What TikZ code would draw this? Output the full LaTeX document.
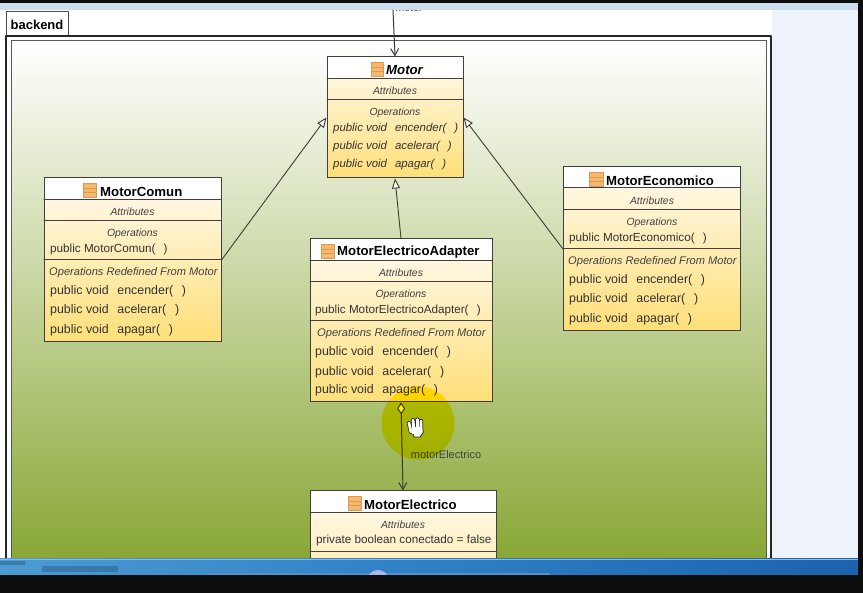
\documentclass[tikz,border=0pt]{standalone}
\usepackage{fontspec}
\setmainfont{Liberation Sans}
\usetikzlibrary{arrows.meta}
\definecolor{headerblue}{HTML}{CBDCEE}
\definecolor{panelblue}{HTML}{EDF2FB}
\definecolor{greenback}{HTML}{89A736}
\definecolor{linegray}{HTML}{3C3C34}
\definecolor{iconfill}{HTML}{F4B870}
\definecolor{iconline}{HTML}{DB9A4C}
\definecolor{classtop}{HTML}{FFFAF0}
\definecolor{classbottom}{HTML}{FFDF78}
\definecolor{barlight}{HTML}{4C9BD2}
\definecolor{barmid}{HTML}{2F80C4}
\definecolor{bardark}{HTML}{1C62AE}
\definecolor{orbblue}{HTML}{A8B8EA}
\newcommand{\rowgap}{\hspace{.7em}}
\tikzset{
	classbody/.style={draw=black!85,line width=1pt,inner sep=0pt,top color=classtop,bottom color=classbottom},
	rowline/.style={draw=black!75,line width=1pt},
	titletext/.style={font=\fontsize{13.2}{15}\selectfont\bfseries,text=black,inner sep=0pt,anchor=west,yshift=-.5pt},
	captext/.style={font=\fontsize{10.4}{12}\selectfont\itshape,text=black!75,inner sep=0pt,yshift=-1pt},
	rowtext/.style={font=\fontsize{12.4}{14}\selectfont,text=black!80,inner sep=0pt,anchor=west,yshift=-1pt},
	rowital/.style={rowtext,font=\fontsize{11.4}{14}\selectfont\itshape},
	ctortext/.style={rowtext,font=\fontsize{11.7}{14}\selectfont},
	smalltext/.style={font=\fontsize{11.1}{12}\selectfont\itshape,text=black!75,inner sep=0pt,anchor=west,yshift=-1pt},
	iconbox/.style={draw=iconline,fill=iconfill,minimum width=13.5pt,minimum height=13.5pt,inner sep=0pt,line width=.6pt,
		path picture={\draw[iconline,line width=.6pt] ([yshift=2pt]path picture bounding box.west) -- ([yshift=2pt]path picture bounding box.east)
			([yshift=-2pt]path picture bounding box.west) -- ([yshift=-2pt]path picture bounding box.east);}},
	inherit/.style={draw=linegray,line width=.9pt,-{Triangle[open,length=10pt,width=8pt,fill=white]}},
	navigable/.style={draw=linegray,line width=1pt,-{Straight Barb[length=7pt,width=8pt]}},
}
\begin{document}
\begin{tikzpicture}[line cap=round,line join=round,x=1pt,y=-1pt]
	\clip(0,0) rectangle (863,593);
	\fill[black!95] (0,0) rectangle (863,593);
	\fill[white] (0,3) rectangle (772,559);
	\node[font=\fontsize{10.5}{12}\selectfont,text=black!70,inner sep=0pt] (motorrole) at (409,8.5) {motor};
	\fill[panelblue] (772,3) rectangle (858,559);
	\fill[headerblue] (0,3) rectangle (858,10);
	% frames and tab
	\draw[draw=black!70,line width=1pt,fill=white] (6,12) rectangle (68,36);
	\node[font=\fontsize{13}{15}\selectfont\bfseries,inner sep=0pt] (tabname) at (37,25) {backend};
	\draw[line width=1.3pt,draw=black!85] (6,36) rectangle (771,620);
	\path[top color=white,bottom color=greenback] (11,41) rectangle (766,559);
	\draw[line width=1pt,draw=black!65] (11,41) rectangle (766,620);
	% Motor
	\node[classbody,minimum width=136pt,minimum height=121pt] (motor) at (395,117.5) {};
	\fill[white] (327,57) rectangle (463,79);
	\draw[rowline] (327,57) rectangle (463,178);
	\draw[rowline] (327,79) -- (463,79);
	\draw[rowline] (327,100) -- (463,100);
	\node[iconbox,minimum width=12pt] (motoricon) at (377.5,69.5) {};
	\node[titletext,font=\fontsize{13.2}{15}\selectfont\bfseries\itshape] (motortitle) at (386,70) {Motor};
	\node[captext] (motorattr) at (395,90) {Attributes};
	\node[captext] (motorops) at (395,112) {Operations};
	\node[rowital] (motorenc) at (333,128) {public void\rowgap encender(\rowgap)};
	\node[rowital] (motoracel) at (333,146) {public void\rowgap acelerar(\rowgap)};
	\node[rowital] (motorapag) at (333,164) {public void\rowgap apagar(\rowgap)};
	% MotorComun
	\node[classbody,minimum width=177pt,minimum height=164pt] (comun) at (132.5,260) {};
	\fill[white] (44,178) rectangle (221,200);
	\draw[rowline] (44,178) rectangle (221,342);
	\draw[rowline] (44,200) -- (221,200);
	\draw[rowline] (44,221) -- (221,221);
	\draw[rowline] (44,260) -- (221,260);
	\node[iconbox] (comunicon) at (90,190.5) {};
	\node[titletext] (comuntitle) at (100,191) {MotorComun};
	\node[captext] (comunattr) at (132.5,211) {Attributes};
	\node[captext] (comunops) at (132.5,233) {Operations};
	\node[ctortext] (comunctor) at (50,248) {public MotorComun(\rowgap)};
	\node[smalltext] (comunredef) at (49,272) {Operations Redefined From Motor};
	\node[rowtext] (comunenc) at (50,290) {public void\rowgap encender(\rowgap)};
	\node[rowtext] (comunacel) at (50,309) {public void\rowgap acelerar(\rowgap)};
	\node[rowtext] (comunapag) at (50,329) {public void\rowgap apagar(\rowgap)};
	% MotorEconomico
	\node[classbody,minimum width=177pt,minimum height=164pt] (economico) at (652,249) {};
	\fill[white] (563.5,167) rectangle (740.5,188);
	\draw[rowline] (563.5,167) rectangle (740.5,331);
	\draw[rowline] (563.5,188) -- (740.5,188);
	\draw[rowline] (563.5,210) -- (740.5,210);
	\draw[rowline] (563.5,249) -- (740.5,249);
	\node[iconbox] (economicoicon) at (596.5,179.5) {};
	\node[titletext] (economicotitle) at (606,180) {MotorEconomico};
	\node[captext] (economicoattr) at (652,200) {Attributes};
	\node[captext] (economicoops) at (652,222) {Operations};
	\node[ctortext] (economicoctor) at (569,237) {public MotorEconomico(\rowgap)};
	\node[smalltext] (economicoredef) at (568,261) {Operations Redefined From Motor};
	\node[rowtext] (economicoenc) at (569,279) {public void\rowgap encender(\rowgap)};
	\node[rowtext] (economicoacel) at (569,298) {public void\rowgap acelerar(\rowgap)};
	\node[rowtext] (economicoapag) at (569,318) {public void\rowgap apagar(\rowgap)};
	% MotorElectricoAdapter
	\node[classbody,minimum width=182pt,minimum height=163pt] (adapter) at (401,320.5) {};
	\fill[white] (310,239) rectangle (492,261);
	\draw[rowline] (310,239) rectangle (492,402);
	\draw[rowline] (310,261) -- (492,261);
	\draw[rowline] (310,282) -- (492,282);
	\draw[rowline] (310,321) -- (492,321);
	\node[iconbox] (adaptericon) at (328,251.5) {};
	\node[titletext] (adaptertitle) at (337,252) {MotorElectricoAdapter};
	\node[captext] (adapterattr) at (401,272) {Attributes};
	\node[captext] (adapterops) at (401,294) {Operations};
	\node[ctortext] (adapterctor) at (315,309) {public MotorElectricoAdapter(\rowgap)};
	\node[smalltext] (adapterredef) at (317,333) {Operations Redefined From Motor};
	\node[rowtext] (adapterenc) at (315,351) {public void\rowgap encender(\rowgap)};
	\node[rowtext] (adapteracel) at (315,371) {public void\rowgap acelerar(\rowgap)};
	\node[rowtext] (adapterapag) at (315,389) {public void\rowgap apagar(\rowgap)};
	% MotorElectrico
	\node[classbody,minimum width=186pt,minimum height=164pt] (electrico) at (403,573) {};
	\fill[white] (310,491) rectangle (496,513);
	\draw[rowline] (310,491) rectangle (496,655);
	\draw[rowline] (310,513) -- (496,513);
	\draw[rowline] (310,552) -- (496,552);
	\node[iconbox] (electricoicon) at (355,503.5) {};
	\node[titletext] (electricotitle) at (364,504) {MotorElectrico};
	\node[captext] (electricoattr) at (403,524) {Attributes};
	\node[ctortext] (electricofield) at (316,539) {private boolean conectado = false};
	% connectors
	\coordinate (motorsource) at (393,10);
	\draw[navigable] (motorsource) -- (motor.north);
	\draw[inherit] (comun.east) -- (motor.west);
	\draw[inherit] (economico.west) -- (motor.east);
	\draw[inherit] (adapter.north) -- (motor.south);
	\draw[navigable,{Diamond[open,length=12pt,width=8pt,fill=white!50!yellow]}-{Straight Barb[length=7pt,width=8pt]}] (adapter.south) -- (electrico.north);
	\node[font=\fontsize{11}{13}\selectfont,text=black!75,inner sep=0pt] (rolelabel) at (446,455) {motorElectrico};
	% cursor highlight and hand
	\fill[yellow,blend mode=multiply] (418,423) circle (36.5);
	\draw[black!85,line width=4.2pt] (411,432) -- (409,423) (414,430) -- (413,420) (417.5,430) -- (417.5,419.5) (421,430) -- (421,421);
	\draw[black!85,fill=white,line width=.8pt] (411,428) -- (422.5,428) -- (423.5,432) -- (420,437) -- (414,437) -- cycle;
	\draw[white,line width=2.8pt] (411,432) -- (409,423) (414,430) -- (413,420) (417.5,430) -- (417.5,419.5) (421,430) -- (421,421);
	\fill[white] (412,427) rectangle (422,434);
	% taskbar
	\shade[left color=barlight,right color=bardark,middle color=barmid] (0,559) rectangle (858,575);
	\fill[white!45!barmid] (0,559) rectangle (858,560);
	\fill[white!15!barmid] (210,573) rectangle (550,575);
	\fill[orbblue] (378,581) circle (11);
	\fill[black!55!barmid,opacity=.3] (42,566) rectangle (118,572);
	\fill[black!55!barmid,opacity=.3] (0,561) rectangle (25,565);
	\fill[black!95] (0,575) rectangle (863,593);
\end{tikzpicture}
\end{document}
